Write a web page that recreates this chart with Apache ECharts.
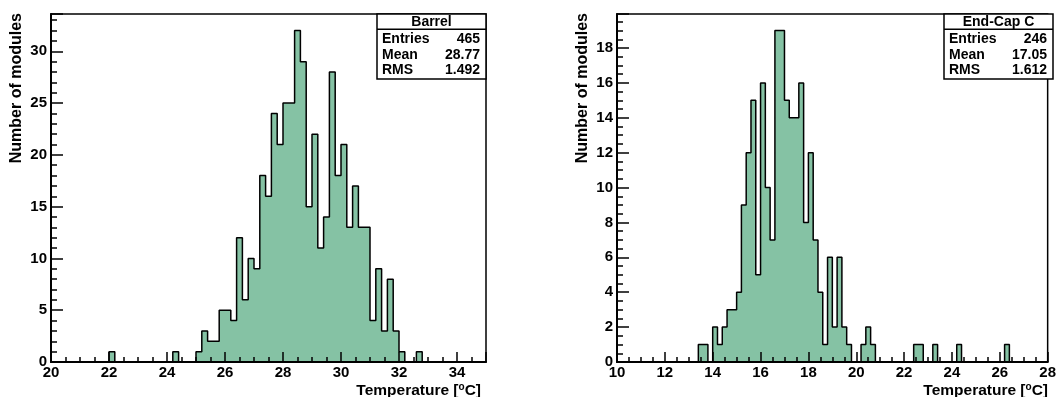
<!DOCTYPE html>
<html>
<head>
<meta charset="utf-8">
<script src="https://cdn.jsdelivr.net/npm/echarts@6/dist/echarts.min.js"></script>
<style>
  html, body { margin: 0; padding: 0; background: #fff; }
  #chart { width: 1059px; height: 397px; }
</style>
</head>
<body>
<div id="chart"></div>
<script>
// histogram data, 0.2 degC bins
const binWidth = 0.2;

const barrelStart = 22.0;
const barrelCounts = [
  1, 0, 0, 0, 0, 0, 0, 0, 0, 0, 0, 1, 0, 0, 0,
  1, 3, 2, 2, 5, 5, 4, 12, 6, 10, 9, 18, 16, 24, 21,
  25, 25, 32, 29, 15, 22, 11, 14, 28, 18, 21, 13, 17, 13, 13,
  4, 9, 3, 8, 3, 1, 0, 0, 1
];

const endcapStart = 13.4;
const endcapCounts = [
  1, 1, 0, 2, 1, 2, 3, 3, 4, 9, 12, 15, 5, 16, 10,
  7, 19, 19, 15, 14, 14, 16, 8, 12, 7, 4, 1, 6, 2, 6,
  2, 1, 0, 0, 1, 2, 1, 0, 0, 0, 0, 0, 0, 0, 0,
  1, 1, 0, 0, 1, 0, 0, 0, 0, 1, 0, 0, 0, 0, 0,
  0, 0, 0, 0, 1
];

const barrelRange = [20, 35];
const endcapRange = [10, 28];
const barrelYMax = 33.6;
const endcapYMax = 19.95;

const barrelStats = [["Entries", "465"], ["Mean", "28.77"], ["RMS", "1.492"]];
const endcapStats = [["Entries", "246"], ["Mean", "17.05"], ["RMS", "1.612"]];

const FONT = "'Liberation Sans', Arial, Helvetica, sans-serif";
const FILL = "#85c2a4";

function stepPoints(start, counts) {
  const pts = [[start, 0]];
  counts.forEach((c, i) => pts.push([+(start + i * binWidth).toFixed(2), c]));
  const end = +(start + counts.length * binWidth).toFixed(2);
  pts.push([end, counts[counts.length - 1]]);
  pts.push([end, 0]);
  return pts;
}

// frame boxes in pixels
const frames = [
  { left: 51, top: 14, width: 435, height: 348 },
  { left: 617, top: 14, width: 436, height: 348 }
];

function xAxisCfg(idx, range) {
  return {
    type: "value", gridIndex: idx, min: range[0], max: range[1], interval: 2, z: 5,
    axisLine: { show: true, onZero: false, lineStyle: { color: "#000", width: 2 } },
    axisTick: { show: true, inside: true, length: 10, lineStyle: { color: "#000", width: 1.5 } },
    minorTick: { show: true, splitNumber: 4, length: 5, lineStyle: { color: "#000", width: 1.5 } },
    splitLine: { show: false },
    axisLabel: {
      color: "#000", fontSize: 15, fontWeight: "bold", fontFamily: FONT, margin: 3,
      formatter: (v) => (Math.abs(v % 2) < 1e-6 ? String(v) : "")
    }
  };
}

function yAxisCfg(idx, max, interval, minorSplit) {
  return {
    type: "value", gridIndex: idx, min: 0, max: max, interval: interval, z: 5,
    axisLine: { show: true, onZero: false, lineStyle: { color: "#000", width: 2 } },
    axisTick: { show: true, inside: true, length: 12, lineStyle: { color: "#000", width: 1.5 } },
    minorTick: { show: true, splitNumber: minorSplit, length: 6, lineStyle: { color: "#000", width: 1.5 } },
    splitLine: { show: false },
    axisLabel: {
      color: "#000", fontSize: 15, fontWeight: "bold", fontFamily: FONT, margin: 4,
      formatter: (v) => (Math.abs(v % interval) < 1e-6 ? String(v) : "")
    }
  };
}

function histSeries(idx, start, counts) {
  return {
    type: "line", xAxisIndex: idx, yAxisIndex: idx,
    data: stepPoints(start, counts),
    step: "end", symbol: "none", showSymbol: false, animation: false, z: 2,
    lineStyle: { color: "#000", width: 1.5 },
    areaStyle: { color: FILL, opacity: 1 }
  };
}

function statsBox(frame, title, rows) {
  const w = 109, h = 65;
  const x = frame.left + frame.width - w;
  const y = frame.top;
  const els = [
    { type: "rect", shape: { x: x, y: y, width: w, height: h },
      style: { fill: "#fff", stroke: "#000", lineWidth: 1.5 }, z: 10 },
    { type: "line", shape: { x1: x, y1: y + 15.3, x2: x + w, y2: y + 15.3 },
      style: { stroke: "#000", lineWidth: 1.5 }, z: 11 },
    { type: "text", x: x + w / 2, y: y + 8.5, z: 11,
      style: { text: title, font: "bold 14px " + FONT, fill: "#000", align: "center", verticalAlign: "middle" } }
  ];
  rows.forEach((r, i) => {
    const cy = y + 25 + i * 15.8;
    els.push({ type: "text", x: x + 5, y: cy, z: 11,
      style: { text: r[0], font: "bold 14px " + FONT, fill: "#000", align: "left", verticalAlign: "middle" } });
    els.push({ type: "text", x: x + w - 6, y: cy, z: 11,
      style: { text: r[1], font: "bold 14px " + FONT, fill: "#000", align: "right", verticalAlign: "middle" } });
  });
  return els;
}

function axisTitles(frame) {
  return [
    { type: "text", x: frame.left - 34.5, y: frame.top - 1, rotation: Math.PI / 2, z: 11,
      style: { text: "Number of modules", font: "bold 16px " + FONT, fill: "#000", align: "right", verticalAlign: "middle" } },
    { type: "text", x: frame.left + frame.width - 5, y: 398.5, z: 11,
      style: {
        text: "{n|Temperature [}{s|o}{n|C]}", fill: "#000", align: "right", verticalAlign: "bottom",
        rich: {
          n: { fontSize: 15.5, fontWeight: "bold", fontFamily: FONT, verticalAlign: "bottom" },
          s: { fontSize: 10, fontWeight: "bold", fontFamily: FONT, verticalAlign: "top" }
        }
      } }
  ];
}

const chart = echarts.init(document.getElementById("chart"), null, { renderer: "canvas" });

chart.setOption({
  animation: false,
  backgroundColor: "#fff",
  grid: frames.map((f) => ({
    left: f.left, top: f.top, width: f.width, height: f.height,
    show: true, borderColor: "#000", borderWidth: 1.5, backgroundColor: "transparent", containLabel: false
  })),
  xAxis: [xAxisCfg(0, barrelRange), xAxisCfg(1, endcapRange)],
  yAxis: [yAxisCfg(0, barrelYMax, 5, 5), yAxisCfg(1, endcapYMax, 2, 4)],
  series: [histSeries(0, barrelStart, barrelCounts), histSeries(1, endcapStart, endcapCounts)],
  graphic: [
    ...statsBox(frames[0], "Barrel", barrelStats),
    ...statsBox(frames[1], "End-Cap C", endcapStats),
    ...axisTitles(frames[0]),
    ...axisTitles(frames[1])
  ]
});
</script>
</body>
</html>
